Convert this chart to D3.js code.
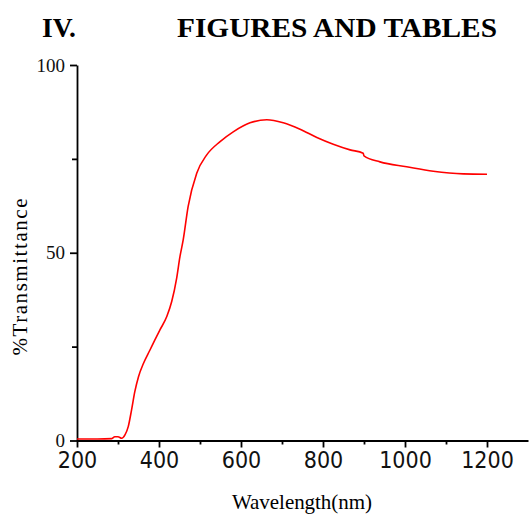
<!DOCTYPE html>
<html>
<head>
<meta charset="utf-8">
<script src="https://cdn.jsdelivr.net/npm/d3@7"></script>
<style>
  body { margin: 0; background: #fff; }
  svg { display: block; }
</style>
</head>
<body>
<svg id="chart" width="529" height="514"></svg>
<script>
  // Wavelength (nm) of each reading along the curve
  var wavelength = [200, 250, 285, 292, 300, 309, 317, 325, 333, 341, 350, 362, 378, 390, 402,
    419, 431, 443, 451, 459, 471, 492, 516, 549, 581, 622, 663, 703, 744, 785,
    825, 866, 898, 900, 939, 1004, 1069, 1142, 1200];
  // %Transmittance at each wavelength
  var transmittance = [0.4, 0.4, 0.5, 1.0, 1.0, 0.6, 1.5, 3.7, 8.1, 13.0, 17.0, 20.5, 24.1, 26.8, 29.4,
    33.0, 37.0, 43.2, 48.9, 53.4, 62.3, 71.2, 76.0, 79.6, 82.2, 84.6, 85.4, 84.6, 82.9, 80.7,
    78.9, 77.4, 76.5, 75.8, 74.2, 72.9, 71.7, 71.0, 70.9];

  var xMajorTicks = [200, 400, 600, 800, 1000, 1200];
  var xMinorTicks = [300, 500, 700, 900, 1100];
  var yMajorTicks = [0, 50, 100];
  var yMinorTicks = [25, 75];

  var svg = d3.select("#chart");

  var x = d3.scaleLinear().domain([200, 1300]).range([77, 528]);
  var y = d3.scaleLinear().domain([0, 100]).range([440.5, 65]);

  var points = wavelength.map(function(w, i) { return [w, transmittance[i]]; });

  // heading above the figure
  svg.append("text")
    .attr("x", 42).attr("y", 37)
    .style("font-family", "'Liberation Serif', 'Times New Roman', serif")
    .style("font-weight", "bold").style("font-size", "27.5px")
    .text("IV.");
  svg.append("text")
    .attr("x", 177).attr("y", 37)
    .attr("textLength", 320).attr("lengthAdjust", "spacingAndGlyphs")
    .style("font-family", "'Liberation Serif', 'Times New Roman', serif")
    .style("font-weight", "bold").style("font-size", "27.5px")
    .text("FIGURES AND TABLES");

  // x axis: major ticks with labels, minor ticks without
  var xAxis = svg.append("g")
    .attr("transform", "translate(0," + y(0) + ")")
    .call(d3.axisBottom(x).tickValues(xMajorTicks).tickSize(7).tickSizeOuter(0)
      .tickPadding(4).tickFormat(d3.format("d")));
  svg.append("g")
    .attr("transform", "translate(0," + y(0) + ")")
    .call(d3.axisBottom(x).tickValues(xMinorTicks).tickSize(4).tickSizeOuter(0).tickFormat(""))
    .select(".domain").remove();

  xAxis.selectAll("text")
    .style("font-family", "'Liberation Sans Narrow', 'DejaVu Sans Condensed', sans-serif")
    .style("font-size", "23px")
    .attr("fill", "#111");

  // y axis
  var yAxis = svg.append("g")
    .attr("transform", "translate(" + x(200) + ",0)")
    .call(d3.axisLeft(y).tickValues(yMajorTicks).tickSize(7).tickSizeOuter(0).tickPadding(5));
  svg.append("g")
    .attr("transform", "translate(" + x(200) + ",0)")
    .call(d3.axisLeft(y).tickValues(yMinorTicks).tickSize(5).tickSizeOuter(0).tickFormat(""))
    .select(".domain").remove();

  yAxis.selectAll("text")
    .style("font-family", "'Liberation Serif', 'Times New Roman', serif")
    .style("font-size", "19px")
    .attr("fill", "#111");

  svg.selectAll(".domain, .tick line")
    .attr("stroke", "#000")
    .attr("stroke-width", 1.8);

  // the spectrum
  var line = d3.line()
    .x(function(d) { return x(d[0]); })
    .y(function(d) { return y(d[1]); })
    .curve(d3.curveMonotoneX);

  svg.append("path")
    .datum(points)
    .attr("fill", "none")
    .attr("stroke", "#ff0000")
    .attr("stroke-width", 1.6)
    .attr("d", line);

  // axis titles
  svg.append("text")
    .attr("x", 302).attr("y", 509)
    .attr("text-anchor", "middle")
    .attr("textLength", 140).attr("lengthAdjust", "spacing")
    .style("font-family", "'Liberation Serif', 'Times New Roman', serif")
    .style("font-size", "21px")
    .text("Wavelength(nm)");

  svg.append("text")
    .attr("transform", "translate(27,277) rotate(-90)")
    .attr("text-anchor", "middle")
    .attr("textLength", 157).attr("lengthAdjust", "spacing")
    .style("font-family", "'Liberation Serif', 'Times New Roman', serif")
    .style("font-size", "21px")
    .text("%Transmittance");
</script>
</body>
</html>
